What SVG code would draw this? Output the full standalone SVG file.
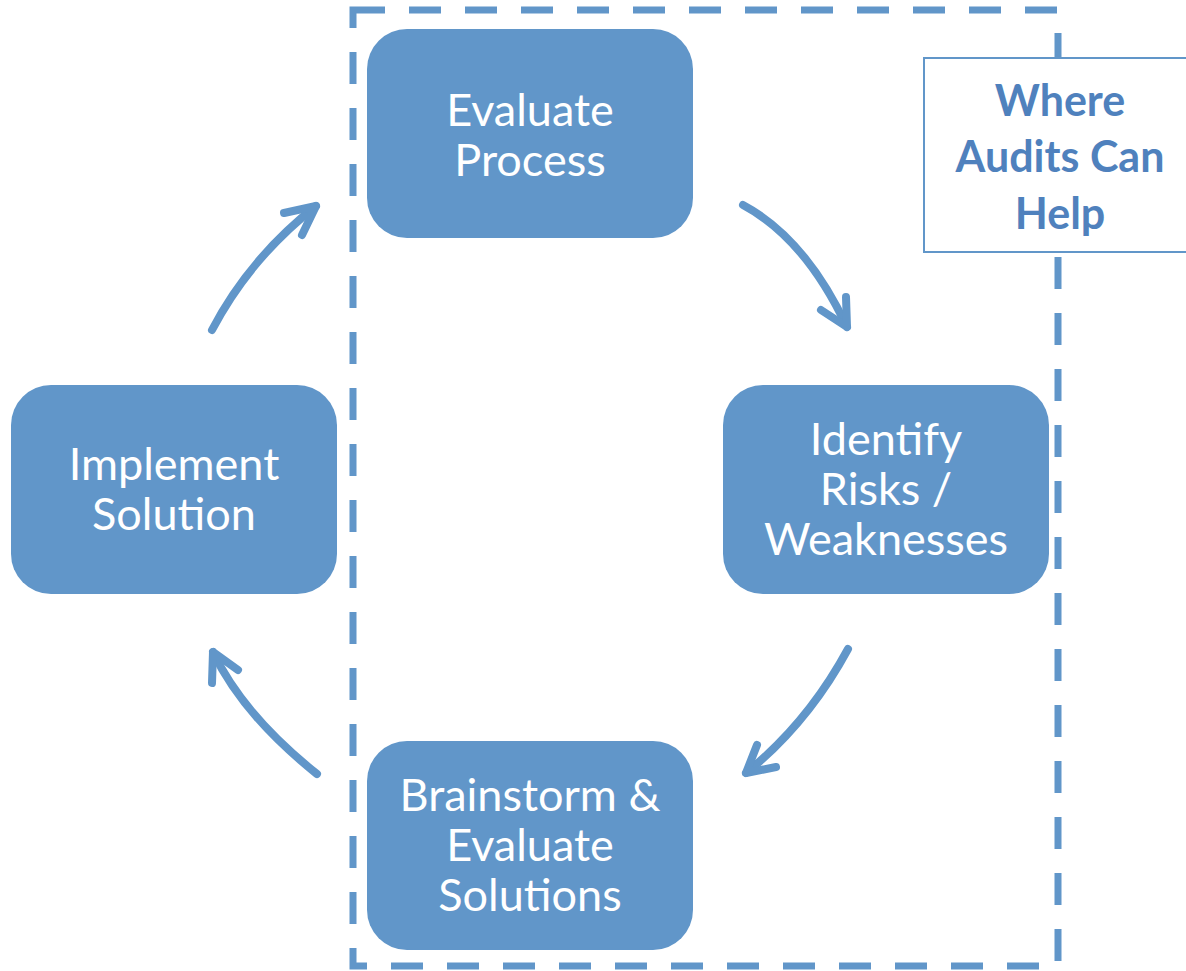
<svg xmlns="http://www.w3.org/2000/svg" width="1186" height="971" viewBox="0 0 1186 971">
  <defs>
    <style>
      .step { fill: #6196c9; }
      .step-label { fill: #ffffff; font-family: Lato, "Open Sans", sans-serif; font-size: 45px; text-anchor: middle; }
      .flow { fill: none; stroke: #6196c9; stroke-width: 8; stroke-linecap: round; stroke-linejoin: round; }
      .scope { fill: none; stroke: #6196c9; stroke-width: 7; stroke-dasharray: 32 24; }
      .callout { fill: #ffffff; stroke: #6196c9; stroke-width: 2; }
      .callout-label { fill: #4f81bd; font-family: Lato, "Open Sans", sans-serif; font-weight: bold; font-size: 43px; text-anchor: middle; }
    </style>
  </defs>
  <rect width="1186" height="971" fill="#ffffff"/>

  <!-- scope of audit work -->
  <g id="audit-scope">
    <path class="scope" d="M353,10 L1058,10 L1058,966 L353,966 Z"/>
  </g>

  <g id="callout">
    <rect class="callout" x="924" y="58" width="270" height="194"/>
    <text class="callout-label" x="1060" y="116">Where</text>
    <text class="callout-label" x="1060" y="172">Audits Can</text>
    <text class="callout-label" x="1060" y="229">Help</text>
  </g>

  <g id="evaluate-process">
    <rect class="step" x="367" y="29" width="326" height="209" rx="40"/>
    <text class="step-label" x="530" y="126">Evaluate</text>
    <text class="step-label" x="530" y="176">Process</text>
  </g>

  <g id="identify-risks">
    <rect class="step" x="723" y="385" width="326" height="209" rx="40"/>
    <text class="step-label" x="886" y="455">Identify</text>
    <text class="step-label" x="886" y="505">Risks /</text>
    <text class="step-label" x="886" y="555">Weaknesses</text>
  </g>

  <g id="brainstorm-solutions">
    <rect class="step" x="367" y="741" width="326" height="209" rx="40"/>
    <text class="step-label" x="530" y="811">Brainstorm &amp;</text>
    <text class="step-label" x="530" y="861">Evaluate</text>
    <text class="step-label" x="530" y="911">Solutions</text>
  </g>

  <g id="implement-solution">
    <rect class="step" x="11" y="385" width="326" height="209" rx="40"/>
    <text class="step-label" x="174" y="480">Implement</text>
    <text class="step-label" x="174" y="530">Solution</text>
  </g>

  <!-- cycle connectors -->
  <g id="connectors">
    <path class="flow" d="M212,330 Q249,259 316,206"/>
    <polyline class="flow" points="284,213 316,206 302,235"/>

    <path class="flow" d="M743,205 Q805,238 847,327"/>
    <polyline class="flow" points="821,310 847,327 846,297"/>

    <path class="flow" d="M848,649 Q808,723 746,773"/>
    <polyline class="flow" points="757,745 746,773 776,767"/>

    <path class="flow" d="M317,774 Q243,715 213,652"/>
    <polyline class="flow" points="212,683 213,652 238,670"/>
  </g>
</svg>
